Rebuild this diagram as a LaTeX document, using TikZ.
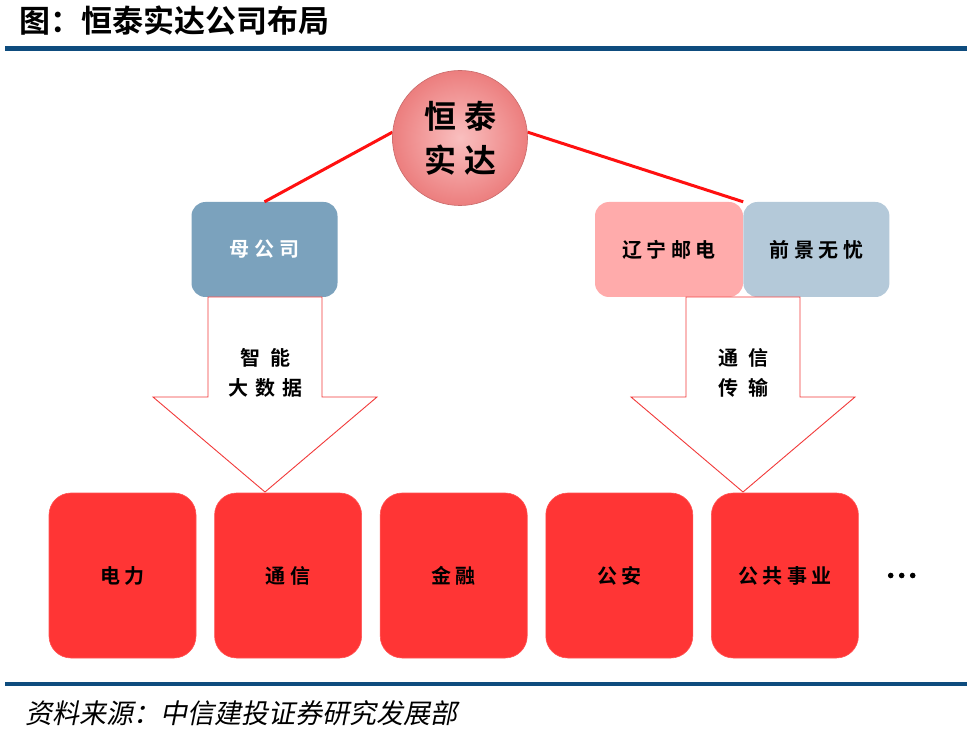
\documentclass[tikz,border=0pt]{standalone}
\usepackage{fontspec}
\setmainfont{Noto Sans CJK SC}[BoldFont={Noto Sans CJK SC Bold}]
\newfontfamily\cjkit[FakeSlant=0.2]{Noto Sans CJK SC}
\usetikzlibrary{positioning, calc}
\definecolor{rulblue}{HTML}{0E4C7E}
\definecolor{ballred}{HTML}{F7A4A4}
\definecolor{ballrim}{HTML}{EC7E7E}
\definecolor{linkred}{HTML}{FF1010}
\definecolor{parblue}{HTML}{7BA2BD}
\definecolor{lnpink}{HTML}{FFABAB}
\definecolor{qjgray}{HTML}{B4C9D9}
\definecolor{fieldred}{HTML}{FF3535}
\definecolor{arrred}{HTML}{F23A3A}

\begin{document}
\begin{tikzpicture}[x=1pt, y=-1pt,
  topbox/.style={rounded corners=14pt, inner sep=0pt, minimum width=146pt,
    minimum height=95pt, font=\fontsize{20}{20}\selectfont\bfseries},
  fieldbox/.style={fill=fieldred, draw=fieldred!85!white, line width=0.6pt,
    rounded corners=22pt, inner sep=0pt, minimum width=147pt,
    minimum height=165pt, font=\fontsize{20}{20}\selectfont\bfseries},
  arrtext/.style={align=center, font=\fontsize{20}{30}\selectfont\bfseries},
  arrshape/.style={draw=arrred, line width=0.9pt, fill=white}]

\useasboundingbox (0,0) rectangle (975,735);
\fill[white] (0,0) rectangle (975,735);

% Title and rules
\node[anchor=west, font=\fontsize{31}{31}\selectfont\bfseries] (title) at (16,21)
  {图：恒泰实达公司布局};
\fill[rulblue] (5,46) rectangle (967,51);
\fill[rulblue] (5,682) rectangle (967,686);
\node[anchor=west, font=\fontsize{27}{27}\selectfont\cjkit] (source) at (22,713)
  {资料来源：中信建投证券研究发展部};

% Second row
\node[topbox, fill=parblue, text=white] (mugs) at (264.5,249.5) {母 公 司};
\node[topbox, fill=lnpink, minimum width=148pt] (liaoning) at (669,249.5) {辽 宁 邮 电};
\node[topbox, fill=qjgray, right=0pt of liaoning] (qianjing) {前 景 无 忧};

% Links to the parent (drawn first, the ball covers their ends)
\node[circle, minimum size=135pt] (hengtai) at (460,138) {};
\draw[linkred, line width=3pt] (hengtai.175) -- (mugs.north);
\draw[linkred, line width=3pt] (hengtai.5) -- (liaoning.north east);
\shade[inner color=ballred!70!white, outer color=ballrim] (hengtai.center) circle (67.5);
\draw[ballrim!85!black, line width=0.6pt] (hengtai.center) circle (67.5);
\node[align=center, font=\fontsize{32}{44}\selectfont\bfseries] (htname) at (hengtai.center)
  {恒\hspace{8pt}泰\\实\hspace{8pt}达};

% Big arrows
\draw[arrshape] (208,297) -- (322,297) -- (322,397) -- (377,397) -- (265,492)
  -- (153,397) -- (208,397) -- cycle;
\node[arrtext] (znds) at (265,373) {智\hspace{10pt}能\\大\hspace{7pt}数\hspace{7pt}据};
\draw[arrshape] (686,297) -- (800,297) -- (800,397) -- (855,397) -- (743,492)
  -- (631,397) -- (686,397) -- cycle;
\node[arrtext] (txcs) at (743,373) {通\hspace{10pt}信\\传\hspace{10pt}输};

% Business fields
\node[fieldbox] (dianli) at (122.5,575.5) {电 力};
\node[fieldbox, right=18pt of dianli] (tongxin) {通 信};
\node[fieldbox, right=18pt of tongxin] (jinrong) {金 融};
\node[fieldbox, right=18pt of jinrong] (gongan) {公 安};
\node[fieldbox, right=18pt of gongan] (gonggong) {公 共 事 业};
\coordinate[right=43pt of gonggong.east] (more);
\foreach \dx in {-11,0,11}
  \fill ($(more)+(\dx,0)$) circle (2.8);

\end{tikzpicture}
\end{document}
